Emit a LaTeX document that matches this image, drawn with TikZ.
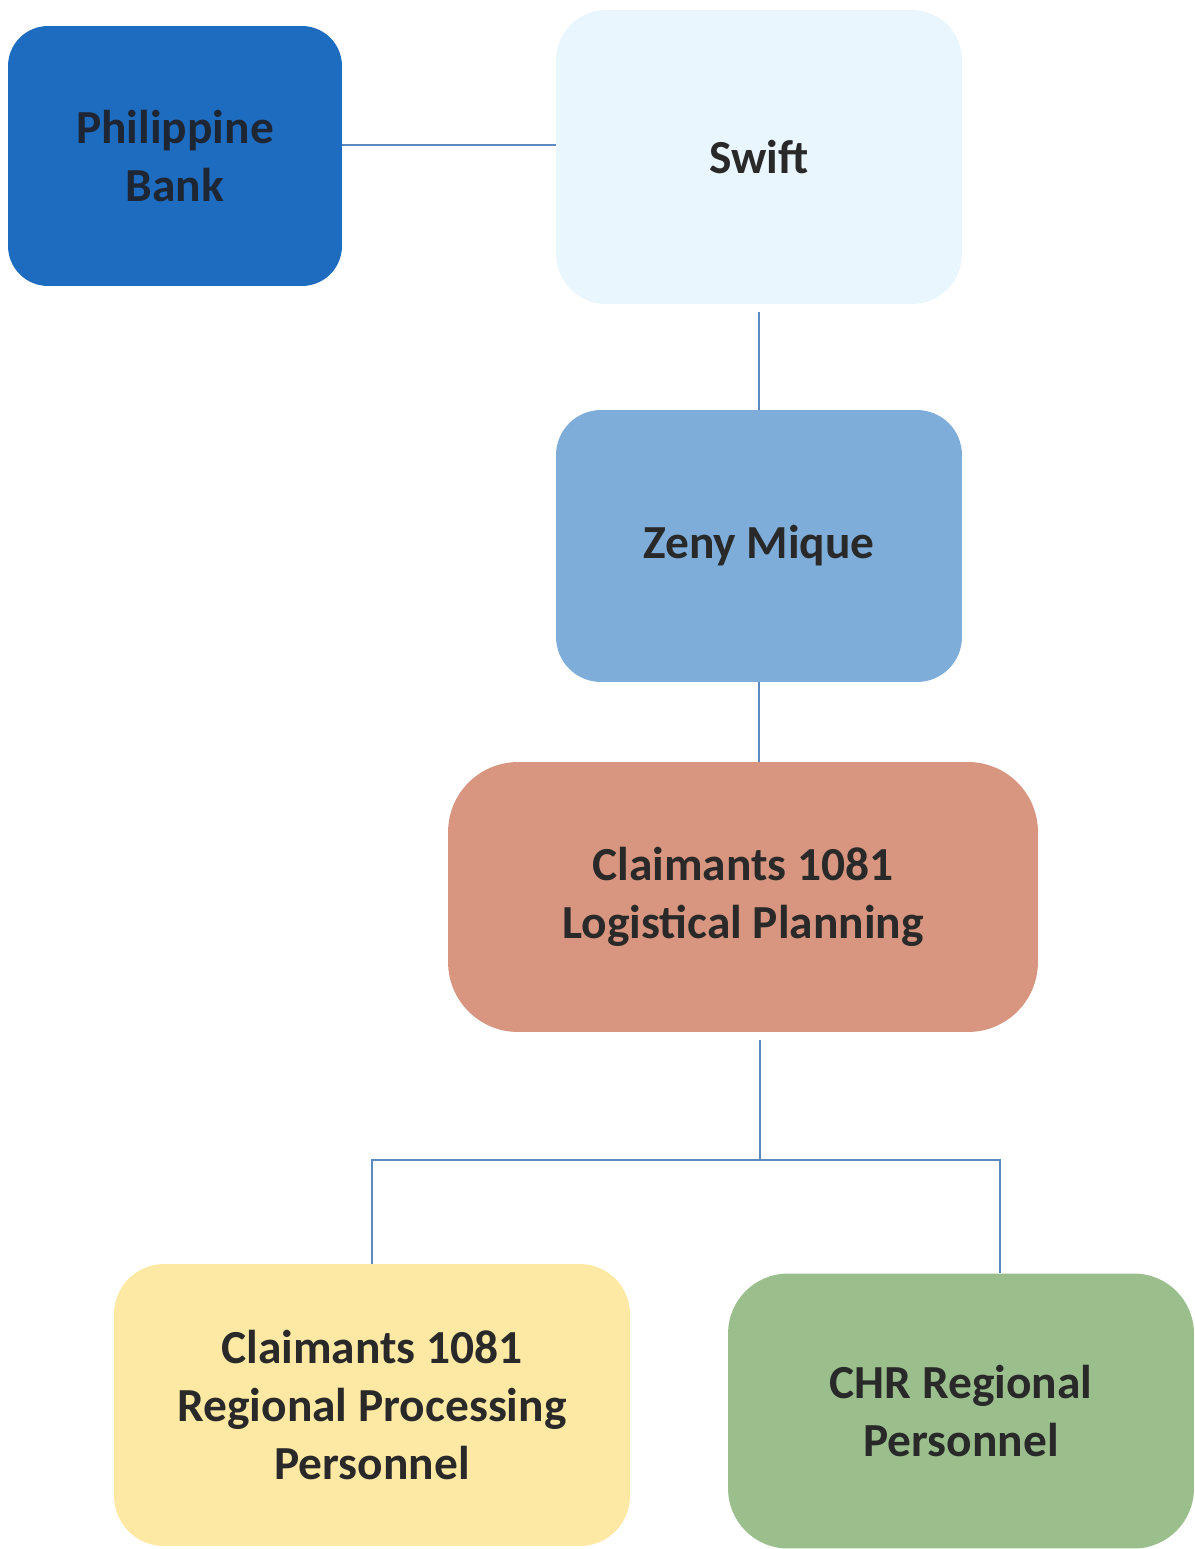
\documentclass[tikz,border=0pt]{standalone}
\usepackage{fontspec}
\setmainfont{Carlito}
\usepackage{xcolor}
\usetikzlibrary{positioning}

\definecolor{bankblue}{HTML}{1E6CBF}
\definecolor{banktext}{HTML}{1F2633}
\definecolor{swiftblue}{HTML}{EAF6FD}
\definecolor{zenyblue}{HTML}{7EADDA}
\definecolor{logisalmon}{HTML}{D8957F}
\definecolor{procyellow}{HTML}{FDE9A4}
\definecolor{chrgreen}{HTML}{9BBF8C}
\definecolor{linkblue}{HTML}{5A8AC0}
\definecolor{inkgray}{HTML}{292929}

\begin{document}
\begin{tikzpicture}[x=0.02cm, y=-0.02cm]
    \tikzstyle{box} = [text centered, align=center, inner sep=0pt,
        font=\fontsize{27}{33}\selectfont\bfseries, text=inkgray]
    \tikzstyle{link} = [draw=linkblue, line width=0.8pt]
    \useasboundingbox (0,0) rectangle (1194,1549);
    \node [box, fill=bankblue, text=banktext, rounded corners=0.8cm,
        minimum width=6.68cm, minimum height=5.2cm] at (175,156) (bank) {Philippine\\Bank};
    \node [box, fill=swiftblue, rounded corners=1cm,
        minimum width=8.12cm, minimum height=5.88cm] at (759,157) (swift) {Swift};
    \node [box, fill=zenyblue, rounded corners=0.9cm,
        minimum width=8.12cm, minimum height=5.44cm] at (759,546) (zeny) {Zeny Mique};
    \node [box, fill=logisalmon, rounded corners=1.4cm,
        minimum width=11.8cm, minimum height=5.4cm] at (743,897) (logi) {Claimants 1081\\Logistical Planning};
    \node [box, fill=procyellow, rounded corners=1cm,
        minimum width=10.32cm, minimum height=5.64cm] at (372,1405) (regproc) {Claimants 1081\\Regional Processing\\Personnel};
    \node [box, fill=chrgreen, rounded corners=1.2cm,
        minimum width=9.32cm, minimum height=5.5cm] at (961,1411) (chr) {CHR Regional\\Personnel};
    \coordinate (trunk) at (760,1160);
    \coordinate (chrtop) at (1000,1160);
    \draw[link] ([yshift=0.22cm]bank.east) -- ([yshift=0.22cm]bank.east -| swift.west);
    \draw[link, shorten <=4.5pt] (swift.south) -- (zeny.north);
    \draw[link] (zeny.south) -- (zeny.south |- logi.north);
    \draw[link, shorten <=4.5pt] (logi.south -| trunk) -- (trunk);
    \draw[link] (regproc.north) |- (chrtop) -- (chrtop |- chr.north);
\end{tikzpicture}
\end{document}
